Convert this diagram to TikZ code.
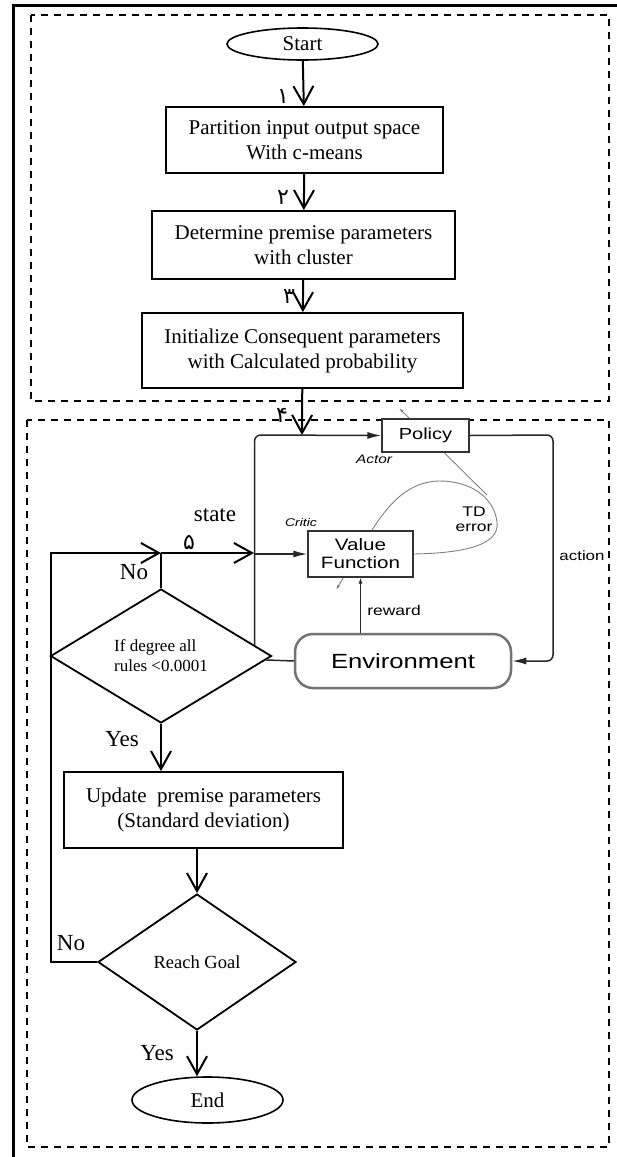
\documentclass[tikz,border=0pt]{standalone}
\usepackage{fontspec}
\setmainfont{Liberation Serif}
\newfontfamily\acfont[FakeStretch=1.25]{Liberation Sans}
\newfontfamily\digitfont[Script=Arabic]{DejaVu Sans}
\usetikzlibrary{shapes.geometric, arrows.meta, backgrounds}

\newcommand{\boxfont}{\fontsize{21}{25}\selectfont}
\newcommand{\tagfont}{\fontsize{23}{26}\selectfont}

\begin{document}
\begin{tikzpicture}[x=1pt, y=-1pt,
    flowbox/.style={rectangle, draw, line width=1.8pt, align=center, inner sep=0pt, font=\boxfont},
    terminal/.style={ellipse, draw, line width=1.6pt, inner sep=0pt, font=\boxfont},
    decision/.style={diamond, draw, line width=1.8pt, inner sep=0pt, aspect=1.6},
    flowline/.style={line width=2pt},
    flowarrow/.style={line width=2pt, -{Straight Barb[length=18pt,width=20pt]}},
    region/.style={draw, line width=1.8pt, dash pattern=on 7pt off 6pt},
    digit/.style={font=\digitfont\fontsize{22}{22}\selectfont, inner sep=0pt},
    tag/.style={font=\tagfont, inner sep=0pt},
    acbox/.style={rectangle, draw=black!80, line width=1.3pt, fill=white, align=center, inner sep=0pt},
    aclabel/.style={inner sep=0pt, align=center, font=\acfont\fontsize{14}{15}\selectfont},
    acline/.style={line width=1.5pt, black!85},
    acarrow/.style={acline, -{Latex[length=14pt,width=7pt]}},
    tdline/.style={line width=0.9pt, black!50}]
    \useasboundingbox (0,0) rectangle (617,1157);
    \clip (0,0) rectangle (617,1157);

    % Frame and regions
    \draw[line width=3pt] (13,1160) -- (13,5) -- (620,5);
    \draw[region] (31,15) rectangle (609,401);
    \draw[region] (27,420) rectangle (609,1147);

    % Nodes
    \node[terminal, minimum width=151pt, minimum height=32pt] (start) at (302.5,44) {Start};
    \node[flowbox, minimum width=277pt, minimum height=66pt] (part) at (304.5,140) {Partition input output space\\With c-means};
    \node[flowbox, minimum width=303pt, minimum height=68pt] (prem) at (303.5,245) {Determine premise parameters\\with cluster};
    \node[flowbox, minimum width=321pt, minimum height=75pt] (init) at (302.5,350.5) {Initialize Consequent parameters\\with Calculated probability};
    \node[decision, minimum width=221pt, minimum height=134pt, align=left, font=\fontsize{17}{20}\selectfont] (deg) at (161,656) {If degree all\\rules <0.0001};
    \node[flowbox, minimum width=279pt, minimum height=76pt] (upd) at (203.5,810) {Update~ premise parameters\\(Standard deviation)};
    \node[decision, minimum width=198pt, minimum height=136pt, font=\fontsize{18.5}{20}\selectfont] (goal) at (197,962) {Reach Goal};
    \node[terminal, minimum width=151pt, minimum height=46pt] (finish) at (207.5,1100) {End};

    \node[acbox, minimum width=87pt, minimum height=33pt, font=\acfont\fontsize{16}{17}\selectfont] (policy) at (425.5,435.5) {Policy};
    \node[acbox, minimum width=105pt, minimum height=46pt, font=\acfont\fontsize{16.5}{18}\selectfont] (value) at (360.5,554) {Value\\Function};
    \node[acbox, draw=black!55, line width=2.5pt, rounded corners=18pt, minimum width=216pt, minimum height=54pt, font=\acfont\fontsize{20.5}{22}\selectfont] (env) at (403,661) {Environment};

    % Labels
    \node[digit] (n1) at (283,97) {۱};
    \node[digit] (n2) at (283,198) {۲};
    \node[digit] (n3) at (289,297) {۳};
    \node[digit] (n4) at (282,415) {۴};
    \node[digit] (n5) at (189,542) {۵};
    \node[tag] (state) at (215,515) {state};
    \node[tag] (no1) at (134,572) {No};
    \node[tag] (yes1) at (122,739) {Yes};
    \node[tag] (no2) at (71,943) {No};
    \node[tag] (yes2) at (157,1053) {Yes};
    \node[aclabel, font=\acfont\itshape\fontsize{12.3}{13}\selectfont] (actor) at (374,459) {Actor};
    \node[aclabel, font=\acfont\itshape\fontsize{11.2}{12}\selectfont] (critic) at (301,522) {Critic};
    \node[aclabel] (td) at (474,519) {TD\\error};
    \node[aclabel] (reward) at (394,610) {reward};
    \node[aclabel, font=\acfont\fontsize{13.5}{14}\selectfont] (action) at (582,556) {action};

    % Coordinates
    \coordinate (entry) at (302,435);
    \coordinate (ltl) at (254,435);
    \coordinate (ltr) at (553,435);
    \coordinate (jn) at (161,553);
    \coordinate (rettop) at (51,553);
    \coordinate (retbot) at (51,962);
    \coordinate (tdjoin) at (487,495);
    \coordinate (tdtip) at (399,408);
    \coordinate (vftip) at (336,590);
    \path (deg.north) -- coordinate[pos=0.84] (dtouch) (deg.east);

    % Edges
    \draw[flowarrow] (start) -- (part);
    \draw[flowarrow] (part) -- (prem);
    \draw[flowarrow] (prem) -- (init);
    \draw[flowarrow] (init) -- (entry);
    \draw[flowline] (deg) -- (jn);
    \draw[flowarrow] (goal) -- (retbot) -- (rettop) -- (jn);
    \draw[flowarrow] (jn) -- (ltl |- jn);
    \draw[flowarrow] (deg.south) -- (deg.south |- upd.north);
    \draw[flowarrow] (goal.north |- upd.south) -- (goal.north);
    \draw[flowarrow] (goal.south) -- (goal.south |- finish.north);

    \draw[acarrow, rounded corners=6pt] (dtouch) -- (dtouch |- ltl) -- (policy.west);
    \draw[acarrow, rounded corners=6pt] (policy.east) -- (ltr) -- (ltr |- env.east) -- (env.east);
    \draw[acline] (env.west) -- (deg);
    \draw[acarrow] (ltl |- value.west) -- (value.west);
    \draw[acline, line width=1pt, -{Latex[length=6pt,width=4pt]}] (env.north -| value.south) -- (value.south);

    \begin{scope}[on background layer]
        \draw[tdline, -{Latex[length=5pt,width=3pt]}] (value.east) .. controls (465,553) and (500,545) .. (497,522)
            .. controls (494,497) and (470,481) .. (440,481)
            .. controls (408,481) and (388,505) .. (372,530) -- (vftip);
        \draw[tdline, -{Latex[length=5pt,width=3pt]}] (tdjoin) -- (tdtip);
    \end{scope}
\end{tikzpicture}
\end{document}
